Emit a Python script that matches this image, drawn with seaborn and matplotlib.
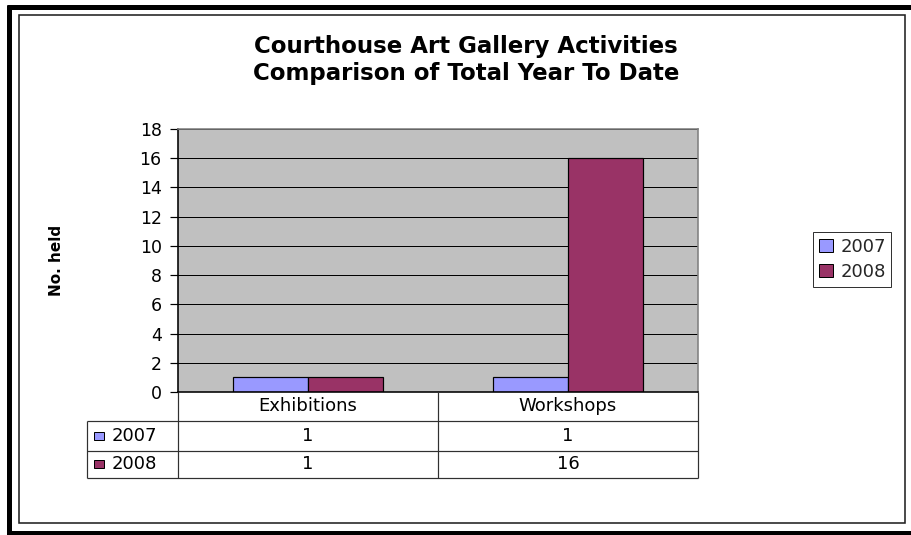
import matplotlib
matplotlib.use("Agg")
import matplotlib.pyplot as plt
import matplotlib.transforms as mtransforms
from matplotlib.lines import Line2D
from matplotlib.patches import Rectangle
import pandas as pd
import seaborn as sns

# ---- data ----
categories = ["Exhibitions", "Workshops"]
years = ["2007", "2008"]
counts_2007 = [1, 1]
counts_2008 = [1, 16]
y_ticks = [0, 2, 4, 6, 8, 10, 12, 14, 16, 18]

title = "Courthouse Art Gallery Activities\nComparison of Total Year To Date"
y_label = "No. held"
colors = ["#9999FF", "#993366"]

series = {years[0]: counts_2007, years[1]: counts_2008}
df = pd.DataFrame({
    "Activity": categories * len(years),
    "Year": [y for y in years for _ in categories],
    "Count": counts_2007 + counts_2008,
})

sns.set_theme(style="white")
plt.rcParams["font.family"] = ["DejaVu Sans"]

W, H = 912, 535
fig = plt.figure(figsize=(W / 100, H / 100), dpi=100)
fig.patch.set_facecolor("white")


def fx(px):
    return px / W


def fy(py):
    return 1 - py / H


def lw(px):
    return px * 0.72


# ---- plot area ----
ax = fig.add_axes([fx(178), fy(392), fx(698) - fx(178), fy(129) - fy(392)])
ax.set_facecolor("#C0C0C0")
sns.barplot(
    data=df, x="Activity", y="Count", hue="Year",
    order=categories, hue_order=years, palette=colors,
    width=0.58, edgecolor="black", linewidth=lw(1.2),
    saturation=1, errorbar=None, legend=False, ax=ax,
)
ax.set_xlim(-0.5, len(categories) - 0.5)
ax.set_ylim(y_ticks[0], y_ticks[-1])
ax.set_yticks(y_ticks)
ax.set_axisbelow(True)
ax.yaxis.grid(True, color="black", linewidth=lw(1.0))
ax.xaxis.grid(False)
ax.set_xlabel("")
ax.set_ylabel("")
ax.tick_params(axis="x", bottom=False, labelbottom=False)
ax.tick_params(axis="y", left=True, direction="out", length=lw(8),
               width=lw(1.2), color="black", pad=6, labelsize=12.5,
               labelcolor="black")
for side in ("left", "bottom"):
    ax.spines[side].set_color("black")
    ax.spines[side].set_linewidth(lw(1.6))
for side in ("top", "right"):
    ax.spines[side].set_color("#808080")
    ax.spines[side].set_linewidth(lw(1.6))

fig.text(fx(57), fy(260), y_label, rotation=90, ha="center", va="center",
         fontsize=11, fontweight="bold", color="black")

fig.text(fx(466), fy(60), title, ha="center", va="center", fontsize=16.5,
         fontweight="bold", color="black", linespacing=1.25)

# ---- data table under the plot ----
tx = mtransforms.blended_transform_factory(ax.transData, fig.transFigure)
table_line = dict(color="#303030", linewidth=lw(1.2), solid_capstyle="butt")
row_tops = [421, 451]
row_bottom = 478
label_left = 87

for y in row_tops + [row_bottom]:
    fig.add_artist(Line2D([fx(label_left), fx(698)], [fy(y), fy(y)],
                          transform=fig.transFigure, **table_line))
fig.add_artist(Line2D([fx(label_left), fx(label_left)],
                      [fy(row_tops[0]), fy(row_bottom)],
                      transform=fig.transFigure, **table_line))
for xb in [i - 0.5 for i in range(len(categories) + 1)]:
    fig.add_artist(Line2D([xb, xb], [fy(392), fy(row_bottom)], transform=tx,
                          **table_line))

for i, cat in enumerate(categories):
    fig.text(i, fy(406), cat, transform=tx, ha="center", va="center",
             fontsize=13, color="black")

row_centers = [436, 464]
for yr, col, yc in zip(years, colors, row_centers):
    for i, v in enumerate(series[yr]):
        fig.text(i, fy(yc), str(v), transform=tx, ha="center", va="center",
                 fontsize=13, color="black")
    fig.add_artist(Rectangle((fx(94), fy(yc + 4)), fx(10), 8 / H,
                             transform=fig.transFigure, facecolor=col,
                             edgecolor="black", linewidth=lw(1.0)))
    fig.text(fx(112), fy(yc), yr, ha="left", va="center", fontsize=13,
             color="black")

# ---- legend ----
handles = [Rectangle((0, 0), 1, 1, facecolor=c, edgecolor="black",
                     linewidth=lw(1.0)) for c in colors]
leg = fig.legend(handles, years, loc="center",
                 bbox_to_anchor=(fx(852.5), fy(259.5)),
                 frameon=True, fancybox=False, shadow=False,
                 fontsize=13, handlelength=0.8, handleheight=0.7,
                 handletextpad=0.4, borderpad=0.3, labelspacing=0.4,
                 borderaxespad=0)
leg.get_frame().set_edgecolor("black")
leg.get_frame().set_linewidth(lw(1.0))

# ---- chart frames ----
fig.add_artist(Rectangle((fx(19.5), fy(523)), fx(905) - fx(19.5),
                         fy(14.5) - fy(523), transform=fig.transFigure,
                         fill=False, edgecolor="#222222", linewidth=lw(1.6)))
thick = dict(color="black", linewidth=lw(5), solid_capstyle="butt",
             transform=fig.transFigure)
fig.add_artist(Line2D([fx(9.5), fx(9.5)], [fy(5), fy(535)], **thick))
fig.add_artist(Line2D([fx(7), fx(915)], [fy(7), fy(7)], **thick))
fig.add_artist(Line2D([fx(7), fx(915)], [fy(533), fy(533)], **thick))

fig.savefig("out.png", dpi=100, facecolor="white")
